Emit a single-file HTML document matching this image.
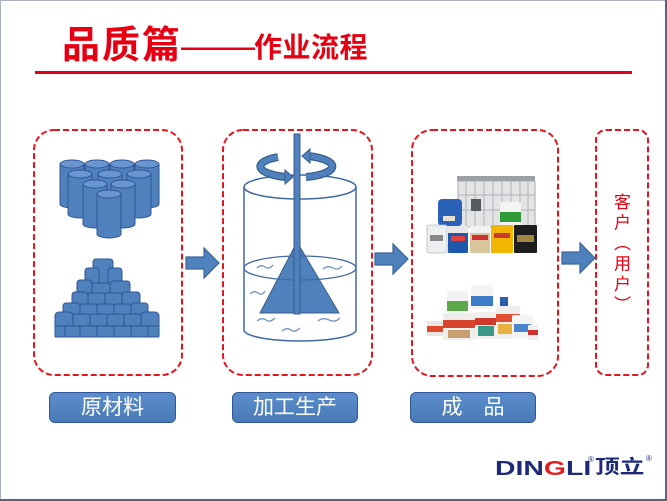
<!DOCTYPE html>
<html><head><meta charset="utf-8"><style>
html,body{margin:0;padding:0;background:#fff;}
#c{position:relative;width:667px;height:501px;overflow:hidden;background:#fff;font-family:"Liberation Sans","Noto Sans CJK SC",sans-serif;}
.t{position:absolute;line-height:1;white-space:nowrap;color:#e60012;font-family:"Liberation Sans","Noto Sans CJK SC",sans-serif;}
.lab{position:absolute;height:29px;border:1.5px solid #2f5597;border-radius:6px;background:linear-gradient(#5b8ccb,#4a7bb9);color:#fff;font-size:21px;line-height:29px;text-align:center;font-family:"Liberation Sans","Noto Sans CJK SC",sans-serif;}
</style></head><body><div id="c">
<svg width="667" height="501" style="position:absolute;left:0;top:0">
<rect x="0.5" y="0.5" width="665" height="499" fill="none" stroke="#a8b0c0" stroke-width="1"/>
<line x1="666" y1="0" x2="666" y2="501" stroke="#56648a" stroke-width="2"/>
<line x1="0" y1="500" x2="667" y2="500" stroke="#56648a" stroke-width="2"/>
<rect x="35" y="71" width="597" height="3" fill="#e60012"/>
<g fill="none" stroke="#e8141c" stroke-width="2" stroke-dasharray="6 3">
<rect x="34" y="130" width="148" height="245" rx="20"/>
<rect x="223" y="130" width="149" height="245" rx="20"/>
<rect x="412" y="130" width="146" height="246" rx="20"/>
<rect x="596" y="130" width="52" height="245" rx="10"/>
</g>
<g fill="#4f81bd" stroke="#3a659c" stroke-width="1.2">
<polygon points="186,257 204,257 204,248 219,263 204,278 204,269 186,269"/>
<polygon points="375,253 393,253 393,244 408,259 393,274 393,265 375,265"/>
<polygon points="562,252 580,252 580,243 595,258 580,273 580,264 562,264"/>
</g>
<defs>
<g id="cyl">
<path d="M-12,0 L-12,40 A12 4 0 0 0 12,40 L12,0 Z" fill="#4f81bd" stroke="#2f5597" stroke-width="1"/>
<ellipse cx="0" cy="0" rx="12" ry="4" fill="#6a96cf" stroke="#2f5597" stroke-width="1"/>
</g>
</defs>
<use href="#cyl" x="72" y="164"/><use href="#cyl" x="97" y="164"/><use href="#cyl" x="122" y="164"/><use href="#cyl" x="147" y="164"/>
<use href="#cyl" x="80" y="174"/><use href="#cyl" x="110" y="174"/><use href="#cyl" x="139" y="174"/>
<use href="#cyl" x="95" y="184"/><use href="#cyl" x="123" y="184"/>
<use href="#cyl" x="109" y="194"/>
<g fill="#4f81bd" stroke="#2f5597" stroke-width="1">
<rect x="93" y="259" width="20" height="30" rx="3"/>
<rect x="85" y="268" width="14" height="26" rx="3"/><rect x="108" y="268" width="14" height="26" rx="3"/>
<rect x="77" y="280" width="15" height="24" rx="3"/><rect x="92" y="283" width="18" height="20" rx="2"/><rect x="110" y="281" width="20" height="22" rx="3"/>
<rect x="72" y="292" width="16" height="22" rx="3"/><rect x="88" y="293" width="17" height="20" rx="2"/><rect x="105" y="293" width="17" height="20" rx="2"/><rect x="122" y="292" width="18" height="22" rx="3"/>
<rect x="63" y="303" width="17" height="20" rx="3"/><rect x="80" y="304" width="17" height="19" rx="2"/><rect x="97" y="304" width="17" height="19" rx="2"/><rect x="114" y="304" width="17" height="19" rx="2"/><rect x="131" y="303" width="17" height="20" rx="3"/>
<rect x="55" y="312" width="18" height="25" rx="4"/><rect x="73" y="314" width="17" height="12" rx="2"/><rect x="90" y="314" width="17" height="12" rx="2"/><rect x="107" y="314" width="17" height="12" rx="2"/><rect x="124" y="314" width="17" height="12" rx="2"/><rect x="141" y="312" width="18" height="25" rx="4"/>
<rect x="64" y="326" width="16" height="11" rx="1"/><rect x="80" y="326" width="17" height="11" rx="1"/><rect x="97" y="326" width="17" height="11" rx="1"/><rect x="114" y="326" width="17" height="11" rx="1"/><rect x="131" y="326" width="17" height="11" rx="1"/>
<rect x="55" y="326" width="10" height="11" rx="1"/><rect x="148" y="326" width="11" height="11" rx="1"/>
</g>
<path d="M244,187 L244,330 A56 11 0 0 0 356,330 L356,187" fill="#fff" stroke="#3f6aa5" stroke-width="1.5"/>
<ellipse cx="300" cy="187" rx="56" ry="12" fill="#fff" stroke="#3f6aa5" stroke-width="1.5"/>
<polygon points="297,242 260,313 339,313" fill="#4f81bd" stroke="#385d8a" stroke-width="1"/>
<ellipse cx="300" cy="268" rx="56" ry="12" fill="none" stroke="#3f6aa5" stroke-width="1.3"/>
<rect x="294" y="134" width="6" height="180" fill="#4f81bd" stroke="#385d8a" stroke-width="1"/>
<g fill="none" stroke="#6f93c4" stroke-width="1.3">
<path d="M257,268 q4,-4 8,-1 t8,-2"/><path d="M323,269 q5,-4 10,-1 t9,-2"/>
<path d="M250,294 q4,-4 8,-1 t7,-2"/><path d="M257,321 q5,-4 9,-1 t9,-2"/>
<path d="M282,331 q5,-4 9,-1 t9,-2"/><path d="M318,321 q5,-4 11,-1 t11,-2"/>
</g>
<g fill="none" stroke="#385d8a" stroke-width="8">
<path d="M278,157 A36 11 0 0 0 286,177"/>
<path d="M306,177 A36 11 0 0 0 308,156"/>
</g>
<g fill="none" stroke="#4f81bd" stroke-width="5.5">
<path d="M278,157 A36 11 0 0 0 286,177"/>
<path d="M306,177 A36 11 0 0 0 308,156"/>
</g>
<g fill="#4f81bd" stroke="#385d8a" stroke-width="1">
<polygon points="285,170 293,177 285,184"/>
<polygon points="310,149 302,156 310,163"/>
</g>
<rect x="457" y="176" width="78" height="5" fill="#9aa0a6"/>
<rect x="458" y="181" width="77" height="46" fill="#e2e4e6" stroke="#a6a9ad" stroke-width="1"/>
<g stroke="#b0b3b7" stroke-width="1">
<line x1="466" y1="181" x2="466" y2="227"/><line x1="475" y1="181" x2="475" y2="227"/><line x1="484" y1="181" x2="484" y2="227"/><line x1="493" y1="181" x2="493" y2="227"/><line x1="502" y1="181" x2="502" y2="227"/><line x1="511" y1="181" x2="511" y2="227"/><line x1="520" y1="181" x2="520" y2="227"/><line x1="528" y1="181" x2="528" y2="227"/>
<line x1="458" y1="195" x2="535" y2="195"/><line x1="458" y1="210" x2="535" y2="210"/>
</g>
<rect x="471" y="199" width="10" height="12" fill="#555a60"/>
<rect x="438" y="199" width="24" height="27" rx="4" fill="#2a62b8"/>
<rect x="443" y="216" width="12" height="5" fill="#e8e0d0"/>
<rect x="500" y="202" width="21" height="24" rx="2" fill="#f4f4f2"/>
<rect x="500" y="212" width="21" height="10" fill="#2f9a3a"/>
<rect x="427" y="225" width="20" height="28" rx="2" fill="#eceef0" stroke="#b8bcc0" stroke-width="0.8"/>
<rect x="430" y="235" width="13" height="6" fill="#888"/>
<rect x="448" y="226" width="20" height="27" rx="1" fill="#1f58ab"/>
<rect x="448" y="226" width="20" height="7" fill="#e8e8e8"/>
<rect x="451" y="236" width="14" height="5" fill="#e04040"/>
<rect x="470" y="226" width="20" height="27" rx="1" fill="#d9c59c"/>
<rect x="470" y="226" width="20" height="7" fill="#f2f2f2"/>
<rect x="472" y="235" width="16" height="5" fill="#d03030"/>
<rect x="491" y="225" width="22" height="28" rx="1" fill="#f1b600"/>
<rect x="494" y="233" width="16" height="5" fill="#c83a2a"/>
<rect x="514" y="225" width="23" height="28" rx="1" fill="#1e1e1e"/>
<rect x="517" y="235" width="17" height="7" fill="#a08840"/>
<rect x="447" y="291" width="21" height="22" rx="2" fill="#f3f3f3"/>
<rect x="447" y="301" width="21" height="10" fill="#5aa84a"/>
<rect x="471" y="285" width="22" height="24" rx="2" fill="#f3f3f3"/>
<rect x="471" y="296" width="22" height="10" fill="#3a7cc8"/>
<rect x="500" y="297" width="8" height="9" fill="#2a5fae"/>
<rect x="427" y="321" width="17" height="15" rx="2" fill="#e8e6e2"/>
<rect x="427" y="326" width="17" height="6" fill="#e04a2a"/>
<rect x="443" y="313" width="33" height="27" rx="2" fill="#f0eeea"/>
<rect x="443" y="320" width="33" height="8" fill="#d8442c"/>
<rect x="448" y="330" width="22" height="8" fill="#c8a070"/>
<rect x="475" y="312" width="22" height="27" rx="2" fill="#f2f0ee"/>
<rect x="475" y="318" width="22" height="7" fill="#d03a2a"/>
<rect x="478" y="326" width="16" height="10" fill="#3a9a8a"/>
<rect x="496" y="306" width="24" height="33" rx="2" fill="#f1efec"/>
<rect x="496" y="314" width="24" height="8" fill="#e05030"/>
<rect x="498" y="324" width="18" height="10" fill="#e8b040"/>
<rect x="512" y="315" width="21" height="24" rx="2" fill="#f4f4f4"/>
<rect x="514" y="324" width="17" height="8" fill="#4a86d0"/>
<rect x="528" y="325" width="10" height="15" rx="1" fill="#f0eeee"/>
<rect x="528" y="330" width="10" height="5" fill="#d03030"/>
</svg>

<div class="t" style="left:62px;top:27px;font-size:38px;font-weight:bold;letter-spacing:2px;">品质篇</div>
<div class="t" style="left:181px;top:27px;font-size:37px;">——</div>
<div class="t" style="left:254px;top:34px;font-size:28px;font-weight:bold;letter-spacing:0.5px;">作业流程</div>

<div class="lab" style="left:49px;top:392px;width:125px;">原材料</div>
<div class="lab" style="left:232px;top:392px;width:124px;">加工生产</div>
<div class="lab" style="left:410px;top:392px;width:124px;">成　品</div>

<div class="t" style="left:612px;top:193px;font-size:17px;writing-mode:vertical-rl;letter-spacing:3.5px;">客户（用户）</div>

<div style="position:absolute;left:495px;top:459px;line-height:1;white-space:nowrap;font-family:'Liberation Sans',sans-serif;font-weight:bold;font-size:20px;color:#1d2a78;transform:scaleX(1.42);transform-origin:0 0;">DIN<span style="color:#e02020">G</span>LI</div>
<div style="position:absolute;left:588px;top:456px;line-height:1;font-family:'Liberation Sans',sans-serif;font-size:8px;color:#1d2a78;">®</div>
<div style="position:absolute;left:595px;top:458px;line-height:1;white-space:nowrap;font-family:'Liberation Sans','Noto Sans CJK SC',sans-serif;font-weight:bold;font-size:19px;color:#1d2a78;transform:scaleX(1.3);transform-origin:0 0;">顶立</div>
<div style="position:absolute;left:646px;top:455px;line-height:1;font-family:'Liberation Sans',sans-serif;font-size:8px;color:#1d2a78;">®</div>
</div></body></html>
